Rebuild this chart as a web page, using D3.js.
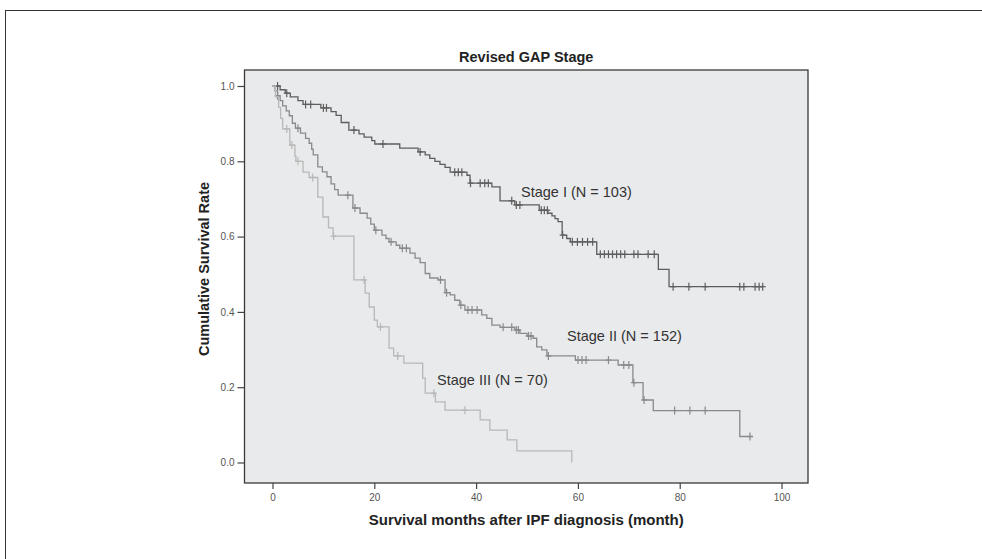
<!DOCTYPE html>
<html>
<head>
<meta charset="utf-8">
<script src="https://cdn.jsdelivr.net/npm/d3@7"></script>
<style>
  body { margin: 0; background: #fff; }
  text { font-family: "Liberation Sans", Arial, sans-serif; }
</style>
</head>
<body>
<script>
// Kaplan-Meier steps: [month, survival after the drop]
var stage1Steps = [[0,1.0],[1.5,0.990],[2.5,0.981],[3.5,0.971],[5,0.961],[6,0.951],[9.5,0.942],[11.5,0.932],[12.5,0.922],
  [13.5,0.903],[15,0.883],[17,0.873],[18,0.864],[19.5,0.855],[20.1,0.846],[25,0.835],[28.6,0.825],[30,0.817],[30.9,0.808],
  [31.9,0.800],[32.9,0.792],[33.9,0.784],[34.9,0.771],[38.2,0.763],[38.8,0.742],[43.1,0.732],[44.7,0.695],[47.6,0.684],
  [52.4,0.670],[54.1,0.662],[54.9,0.655],[55.5,0.648],[56.1,0.640],[56.9,0.604],[57.8,0.595],[58.5,0.586],[63.7,0.553],
  [75.8,0.513],[77.9,0.467]];
var stage1Censor = [1,2.8,6.5,7.5,10,10.6,16,21.7,29,35.8,36.5,37.2,38.9,40.8,41.7,42.4,47,47.9,48.6,52.8,53.4,54,57,
  58.9,59.9,60.9,61.9,62.9,64.4,65.2,66,66.8,67.6,68.4,69.2,71,71.8,73.8,75,78.7,81.8,85,91.8,92.6,94.8,95.6,96.3];
var stage1End = 96.4;

var stage2Steps = [[0,1.0],[0.5,0.987],[1,0.974],[1.5,0.961],[2,0.947],[2.7,0.934],[3.3,0.921],[3.9,0.901],[4.5,0.888],
  [5.5,0.875],[6.5,0.861],[7.2,0.848],[7.7,0.832],[8,0.817],[8.9,0.785],[9.8,0.772],[10.7,0.759],[11.5,0.740],[12.2,0.725],
  [12.9,0.710],[15.8,0.676],[17.2,0.662],[18.6,0.649],[19.3,0.633],[20,0.617],[21.5,0.604],[22.3,0.595],[22.9,0.586],
  [24.3,0.577],[25,0.569],[27,0.556],[28,0.543],[29,0.531],[30,0.502],[30.9,0.490],[32.5,0.485],[33.9,0.451],[34.9,0.445],
  [35.8,0.431],[36.8,0.418],[37.8,0.405],[41.1,0.392],[42.1,0.383],[43.1,0.365],[44.7,0.359],[47.6,0.352],[48.6,0.343],
  [50,0.336],[51.2,0.330],[51.9,0.307],[52.9,0.299],[53.9,0.283],[59.5,0.272],[67.9,0.259],[70.8,0.212],[72.8,0.166],
  [74.8,0.138],[91.8,0.069]];
var stage2Censor = [1,5,14.8,16.2,20.3,23.3,25.5,26.3,33,34.2,37,38.4,39.2,40.2,45.3,47,47.9,48.3,50.3,50.8,54.2,
  60,60.8,61.6,66,69,70,71,73,79,82,85,93.8];
var stage2End = 94.4;

var stage3Steps = [[0,1.0],[0.6,0.971],[1.2,0.943],[1.6,0.914],[2,0.886],[3.4,0.843],[4.4,0.814],[4.6,0.800],[6,0.771],
  [7.2,0.757],[8.9,0.705],[9.9,0.652],[11,0.623],[11.9,0.601],[16,0.485],[18.2,0.450],[19,0.413],[20,0.378],[20.6,0.360],
  [22.9,0.304],[23.8,0.283],[25.8,0.264],[29.5,0.224],[30,0.184],[32,0.161],[33.9,0.139],[40.8,0.113],[42.7,0.086],
  [46.1,0.060],[48,0.031],[58.8,0.0]];
var stage3Censor = [2.8,3.8,5,7.9,12,18,21.2,24.6,31.7,37.8];
var stage3End = 58.8;

var xTicks = [0, 20, 40, 60, 80, 100];
var yTicks = [0, 0.2, 0.4, 0.6, 0.8, 1.0];

var series = [
  {name: "Stage I (N = 103)", steps: stage1Steps, censor: stage1Censor, end: stage1End, color: "#5e5e5e", lx: 521, ly: 193},
  {name: "Stage II (N = 152)", steps: stage2Steps, censor: stage2Censor, end: stage2End, color: "#8a8a8a", lx: 567, ly: 337},
  {name: "Stage III (N = 70)", steps: stage3Steps, censor: stage3Censor, end: stage3End, color: "#b8b8b8", lx: 437, ly: 381}
];

var W = 982, H = 559;
var box = {left: 244.5, right: 808, top: 70, bottom: 483};

var svg = d3.select("body").append("svg")
  .attr("width", W)
  .attr("height", H);

// outer figure frame (cropped on right and bottom)
svg.append("rect")
  .attr("x", 5.5).attr("y", 10.5)
  .attr("width", 1000).attr("height", 600)
  .attr("fill", "none")
  .attr("stroke", "#333")
  .attr("stroke-width", 1);

var x = d3.scaleLinear()
  .domain([-5.5, 105.2])
  .range([box.left, box.right]);

var y = d3.scaleLinear()
  .domain([0, 1])
  .range([462.5, 86]);

svg.append("rect")
  .attr("x", box.left).attr("y", box.top)
  .attr("width", box.right - box.left).attr("height", box.bottom - box.top)
  .attr("fill", "#e9eaec")
  .attr("stroke", "#3a3a3a")
  .attr("stroke-width", 1.3);

var xAxis = d3.axisBottom(x).tickValues(xTicks).tickSize(6).tickPadding(5);
var yAxis = d3.axisLeft(y).tickValues(yTicks).tickSize(7).tickPadding(3).tickFormat(d3.format(".1f"));

var gx = svg.append("g")
  .attr("transform", "translate(0," + box.bottom + ")")
  .call(xAxis);
var gy = svg.append("g")
  .attr("transform", "translate(" + box.left + ",0)")
  .call(yAxis);

[gx, gy].forEach(function(g){
  g.select(".domain").remove();
  g.selectAll(".tick line").attr("stroke", "#444").attr("stroke-width", 1.2);
  g.selectAll(".tick text").attr("fill", "#555").attr("font-size", 10)
    .attr("font-family", "Liberation Sans, Arial, sans-serif");
});

var line = d3.line()
  .x(function(d){ return x(d[0]); })
  .y(function(d){ return y(d[1]); })
  .curve(d3.curveStepAfter);

function survAt(steps, t) {
  var s = steps[0][1];
  steps.forEach(function(p){ if (p[0] <= t) s = p[1]; });
  return s;
}

series.forEach(function(sr){
  var pts = sr.steps.slice();
  var last = pts[pts.length - 1];
  if (last[0] < sr.end) pts.push([sr.end, last[1]]);

  svg.append("path")
    .datum(pts)
    .attr("d", line)
    .attr("fill", "none")
    .attr("stroke", sr.color)
    .attr("stroke-width", 1.3);

  var g = svg.append("g");
  g.selectAll("line.v")
    .data(sr.censor)
    .enter().append("line")
      .attr("class", "v")
      .attr("x1", function(d){ return x(d); })
      .attr("x2", function(d){ return x(d); })
      .attr("y1", function(d){ return y(survAt(sr.steps, d)) - 4; })
      .attr("y2", function(d){ return y(survAt(sr.steps, d)) + 4; })
      .attr("stroke", sr.color)
      .attr("stroke-width", 1.2);
  g.selectAll("line.h")
    .data(sr.censor)
    .enter().append("line")
      .attr("class", "h")
      .attr("x1", function(d){ return x(d) - 3; })
      .attr("x2", function(d){ return x(d) + 3; })
      .attr("y1", function(d){ return y(survAt(sr.steps, d)); })
      .attr("y2", function(d){ return y(survAt(sr.steps, d)); })
      .attr("stroke", sr.color)
      .attr("stroke-width", 1.2);

  svg.append("text")
    .attr("x", sr.lx)
    .attr("y", sr.ly)
    .attr("dominant-baseline", "middle")
    .attr("font-size", 14.5)
    .attr("fill", "#333")
    .text(sr.name);
});

svg.append("text")
  .attr("x", (box.left + box.right) / 2)
  .attr("y", 58)
  .attr("text-anchor", "middle")
  .attr("dominant-baseline", "middle")
  .attr("font-size", 14.5)
  .attr("font-weight", "bold")
  .attr("fill", "#222")
  .text("Revised GAP Stage");

svg.append("text")
  .attr("x", (box.left + box.right) / 2)
  .attr("y", 521)
  .attr("text-anchor", "middle")
  .attr("dominant-baseline", "middle")
  .attr("font-size", 15)
  .attr("font-weight", "bold")
  .attr("fill", "#222")
  .text("Survival months after IPF diagnosis (month)");

svg.append("text")
  .attr("transform", "translate(205,269) rotate(-90)")
  .attr("text-anchor", "middle")
  .attr("dominant-baseline", "middle")
  .attr("font-size", 14.5)
  .attr("font-weight", "bold")
  .attr("fill", "#222")
  .text("Cumulative Survival Rate");
</script>
</body>
</html>
